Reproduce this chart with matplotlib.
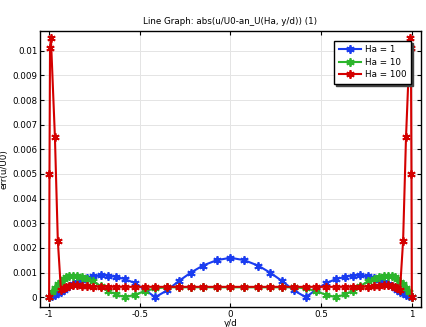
import matplotlib
matplotlib.use("Agg")
import matplotlib.pyplot as plt

# y/d positions (mesh nodes) shared by Ha = 1 and Ha = 10
x_mesh = [-1.0, -0.985, -0.968, -0.95, -0.935, -0.92, -0.905, -0.888, -0.868, -0.845,
          -0.82, -0.79, -0.756, -0.716, -0.673, -0.63, -0.58, -0.527, -0.47, -0.415,
          -0.349, -0.284, -0.218, -0.153, -0.077, 0.0, 0.077, 0.153, 0.218, 0.284,
          0.349, 0.415, 0.47, 0.527, 0.58, 0.63, 0.673, 0.716, 0.756, 0.79,
          0.82, 0.845, 0.868, 0.888, 0.905, 0.92, 0.935, 0.95, 0.968, 0.985, 1.0]

err_ha1 = [0.0, 0.00003, 0.00008, 0.00016, 0.00023, 0.00030, 0.00037, 0.00044, 0.00052, 0.00060,
           0.00068, 0.00076, 0.00084, 0.00089, 0.00088, 0.00082, 0.00073, 0.00057, 0.00029, 0.0,
           0.00028, 0.00066, 0.00100, 0.00128, 0.00150, 0.00160, 0.00150, 0.00128, 0.00100, 0.00066,
           0.00028, 0.0, 0.00029, 0.00057, 0.00073, 0.00082, 0.00088, 0.00089, 0.00084, 0.00076,
           0.00068, 0.00060, 0.00052, 0.00044, 0.00037, 0.00030, 0.00023, 0.00016, 0.00008, 0.00003, 0.0]

err_ha10 = [0.0, 0.00020, 0.00038, 0.00054, 0.00063, 0.00072, 0.00080, 0.00085, 0.00088, 0.00088,
            0.00083, 0.00075, 0.00064, 0.00045, 0.00025, 0.00011, 0.0, 0.00010, 0.00025, 0.00036,
            0.00040, 0.00040, 0.00040, 0.00040, 0.00040, 0.00040, 0.00040, 0.00040, 0.00040, 0.00040,
            0.00040, 0.00036, 0.00025, 0.00010, 0.0, 0.00011, 0.00025, 0.00045, 0.00064, 0.00075,
            0.00083, 0.00088, 0.00088, 0.00085, 0.00080, 0.00072, 0.00063, 0.00054, 0.00038, 0.00020, 0.0]

# Ha = 100 has a finer mesh in the Hartmann layers
x_ha100 = [-1.0, -0.998, -0.995, -0.99, -0.968, -0.952, -0.935, -0.92, -0.905, -0.888,
           -0.868, -0.845, -0.82, -0.79, -0.756, -0.716, -0.673, -0.63, -0.58, -0.527,
           -0.47, -0.415, -0.349, -0.284, -0.218, -0.153, -0.077, 0.0, 0.077, 0.153,
           0.218, 0.284, 0.349, 0.415, 0.47, 0.527, 0.58, 0.63, 0.673, 0.716,
           0.756, 0.79, 0.82, 0.845, 0.868, 0.888, 0.905, 0.92, 0.935, 0.952,
           0.968, 0.99, 0.995, 0.998, 1.0]

err_ha100 = [0.0, 0.0050, 0.0101, 0.0105, 0.0065, 0.0023, 0.00030, 0.00038, 0.00043, 0.00046,
             0.00048, 0.00048, 0.00047, 0.00045, 0.00043, 0.00042, 0.00042, 0.00042, 0.00042, 0.00042,
             0.00042, 0.00042, 0.00042, 0.00042, 0.00042, 0.00042, 0.00042, 0.00042, 0.00042, 0.00042,
             0.00042, 0.00042, 0.00042, 0.00042, 0.00042, 0.00042, 0.00042, 0.00042, 0.00042, 0.00042,
             0.00043, 0.00045, 0.00047, 0.00048, 0.00048, 0.00046, 0.00043, 0.00038, 0.00030, 0.0023,
             0.0065, 0.0105, 0.0101, 0.0050, 0.0]

BLUE = "#1a3cf0"
GREEN = "#2cb52c"
RED = "#d40000"
FS = 6.3

fig = plt.figure(figsize=(4.26, 3.27), dpi=100)
ax = fig.add_axes([0.094, 0.061, 0.894, 0.844])

mk = (6, 2, 0)
ax.plot(x_mesh, err_ha1, color=BLUE, lw=1.5, marker=mk, ms=6, mew=1.3, label="Ha = 1")
ax.plot(x_mesh, err_ha10, color=GREEN, lw=1.5, marker=mk, ms=6, mew=1.3, label="Ha = 10")
ax.plot(x_ha100, err_ha100, color=RED, lw=1.5, marker=mk, ms=6, mew=1.3, label="Ha = 100")

ax.set_xlim(-1.05, 1.05)
ax.set_ylim(-0.0004, 0.0108)
ax.set_xticks([-1, -0.5, 0, 0.5, 1])
ax.set_xticklabels(["-1", "-0.5", "0", "0.5", "1"])
yt = [i * 0.001 for i in range(11)]
ax.set_yticks(yt)
ax.set_yticklabels(["0"] + [f"{v:.3f}" for v in yt[1:10]] + ["0.01"])
ax.tick_params(direction="in", top=True, right=True, labelsize=FS, length=3, width=0.8, pad=2)
ax.grid(color="#e4e4e4", linewidth=0.7)
ax.set_axisbelow(True)
for s in ax.spines.values():
    s.set_linewidth(1.0)
    s.set_color("black")

ax.set_title("Line Graph: abs(u/U0-an_U(Ha, y/d)) (1)", fontsize=FS, pad=5)
ax.set_xlabel("y/d", fontsize=FS, labelpad=0)
ax.set_ylabel("err(u/U0)", fontsize=FS)
ax.yaxis.set_label_coords(-0.083, 0.5)

leg = ax.legend(loc="upper right", bbox_to_anchor=(0.974, 0.965), fontsize=FS,
                fancybox=False, framealpha=1, edgecolor="black",
                shadow={"ox": 1.5, "oy": -1.5, "color": "#444444", "alpha": 1},
                handlelength=2.5, handletextpad=0.5, borderpad=0.5, labelspacing=0.42,
                borderaxespad=0)
leg.get_frame().set_linewidth(1.0)

fig.savefig("out.png", dpi=100)
